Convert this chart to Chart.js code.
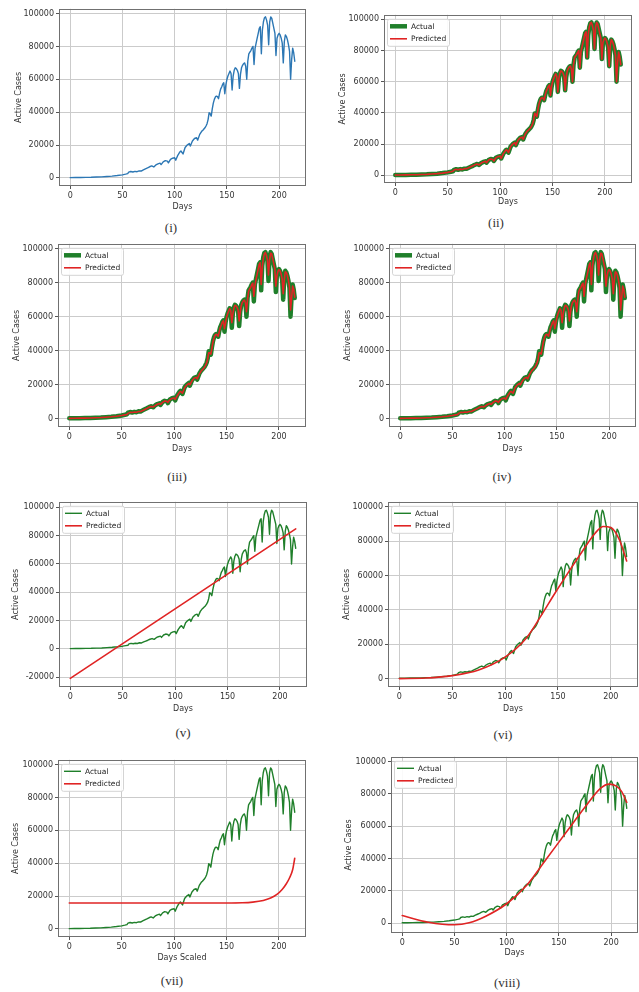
<!DOCTYPE html>
<html>
<head>
<meta charset="utf-8">
<script src="https://cdn.jsdelivr.net/npm/chart.js@4.4.1/dist/chart.umd.min.js"></script>
<style>
  body { margin: 0; background: #fff; width: 639px; height: 992px; position: relative; overflow: hidden; }
  .panel { position: absolute; }
  .cap { position: absolute; font-family: "Liberation Serif", serif; font-size: 13px; font-weight: 400; color: #333; transform: translate(-50%, -50%); white-space: nowrap; }
</style>
</head>
<body>
<script>
// ---- data ----
var xTicks = [0, 50, 100, 150, 200];
var yTicks = [0, 20000, 40000, 60000, 80000, 100000];
var yTicksNeg = [-20000, 0, 20000, 40000, 60000, 80000, 100000];

var actualDays = [0,5,10,15,20,25,30,35,40,45,50,53,55,56,58,60,62,64,66,68,70,72,74,76,78,80,82,84,86,87,89,91,93,94,96,98,100,101,103,105,106,108,110,112,114,115,117,119,121,122,124,126,127,129,
  130,131,132,133,134,135,136,137,138,139,140,141,142,143,144,145,146,147,148,149,150,151,152,153,154,155,156,157,158,159,160,161,162,163,164,165,166,167,168,169,
  170,171,172,173,174,175,176,177,178,179,180,181,182,183,184,185,186,187,188,189,190,191,192,193,194,195,196,197,198,199,200,201,202,203,204,205,206,207,208,209,
  210,211,212,213,214,215];
var actualCases = [200,250,300,350,400,550,650,850,1100,1450,1900,2300,2600,3500,3900,3600,4000,3800,4300,4200,4900,5500,6100,6800,7300,6700,7900,8600,9000,8100,9800,10500,10200,9200,11300,12000,12300,10800,13800,15800,16400,14600,18500,20000,21000,19400,22500,24000,24500,23000,26500,28500,29000,30500,
  31600,33000,35500,39700,39000,37600,42000,45500,47800,49300,49800,49500,48200,51500,54000,55300,57000,57900,51200,56500,59900,62000,63500,65000,63500,53500,62000,65500,67000,66500,65500,63500,54500,63000,67000,68500,69500,70000,68000,60000,
  71000,75500,76500,77500,79000,80000,69000,79000,82000,85000,88000,91000,92000,75500,90000,95000,97500,98000,96000,93000,81000,95000,98000,97000,94000,91000,88000,74500,85000,87000,88000,87000,85000,82000,70000,83000,87000,86000,84000,81000,
  77000,60000,72000,79000,76000,71000];

// panels (iii) and (iv): prediction follows the actual series with shallower dips
var predictedCloseCases = [200,250,300,350,400,550,650,850,1100,1450,1900,2250,2500,3100,3700,3600,3900,3800,4200,4200,4800,5400,6000,6700,7200,6900,7700,8500,8900,8400,9600,10400,10200,9600,11100,11900,12200,11300,13500,15500,16100,15000,18200,19800,20800,19900,22200,23800,24300,23400,26200,28300,28800,30300,
  31400,32800,35000,38800,38800,38000,41300,45000,47400,49000,49600,49400,48500,51000,53600,55100,56800,57600,53000,56000,59400,61700,63300,64800,63600,56500,61500,65000,66700,66500,65600,63800,57500,62500,66500,68300,69300,69800,68200,63000,
  70000,74800,76300,77300,78800,79800,72000,78000,81500,84600,87600,90600,91800,79000,88500,94000,97000,97800,96200,93300,84500,93500,97300,97000,94200,91200,88300,78000,84000,86600,87700,87000,85200,82300,73500,81500,86400,86000,84200,81300,
  77500,64000,70500,78000,76200,71500];

var linearDays = [0, 215];
var linearCases = [-20800, 84800];

var polyDays = [0, 25, 50, 75, 100, 120, 135, 147, 160, 173, 185, 193, 200, 208, 215];
var polyCases = [0, 300, 1700, 5000, 12500, 23500, 37500, 49500, 62000, 74000, 84500, 88500, 88000, 81000, 68500];

var scaledDays = [0, 150, 165, 175, 185, 192, 198, 203, 207, 210, 213, 215];
var scaledCases = [15800, 15800, 15900, 16300, 17300, 18800, 21000, 24000, 27500, 31000, 36000, 43000];

var svrDays = [0, 25, 50, 64, 80, 100, 119, 138, 157, 176, 190, 198, 205, 210, 215];
var svrCases = [4700, 600, -1000, 200, 4300, 12000, 23300, 39700, 56200, 72600, 83500, 86000, 84800, 81500, 74700];

// ---- styling ----
var BLUE = '#2c77b4';
var GREEN = '#1f7f2a';
var RED = '#e02424';
var FONT = 'DejaVu Sans';

function pts(days, values) {
  return days.map(function (d, i) { return { x: d, y: values[i] }; });
}

function actualSet(width) {
  return { label: 'Actual', data: pts(actualDays, actualCases), borderColor: GREEN, borderWidth: width, order: 1 };
}

function predictedSet(days, values, smooth) {
  return {
    label: 'Predicted', data: pts(days, values), borderColor: RED, borderWidth: 1.6, order: 0,
    cubicInterpolationMode: smooth ? 'monotone' : 'default'
  };
}

const frameLegendPlugin = {
  id: 'frameLegend',
  afterDatasetsDraw: function (chart, args, opts) {
    const ctx = chart.ctx;
    const a = chart.chartArea;
    ctx.save();
    ctx.strokeStyle = '#707070';
    ctx.lineWidth = 1;
    ctx.strokeRect(Math.round(a.left) + 0.5, Math.round(a.top) + 0.5,
      Math.round(a.right - a.left) - 1, Math.round(a.bottom - a.top) - 1);

    if (opts.show) {
      const x = a.left + 3, y = a.top + 4, w = 62, h = 27;
      ctx.fillStyle = 'rgba(255,255,255,0.9)';
      ctx.strokeStyle = '#d4d4d4';
      ctx.beginPath();
      ctx.roundRect(x + 0.5, y + 0.5, w, h, 2);
      ctx.fill();
      ctx.stroke();
      ctx.font = '7.5px "' + FONT + '"';
      ctx.textBaseline = 'middle';
      chart.data.datasets.forEach(function (ds, i) {
        const ly = y + 7.5 + i * 12.5;
        ctx.strokeStyle = ds.borderColor;
        ctx.lineWidth = ds.borderWidth;
        ctx.beginPath();
        ctx.moveTo(x + 3, ly);
        ctx.lineTo(x + 20, ly);
        ctx.stroke();
        ctx.fillStyle = '#222';
        ctx.fillText(ds.label, x + 24, ly + 0.5);
      });
    }
    ctx.restore();
  }
};

// frame box (L,T,R,B), y title centre x, x title centre y, caption centre
var panels = [
  { cap: '(i)', L: 59, T: 8, R: 306, B: 186, titleX: 19, daysY: 207, capX: 171, capY: 228, legend: false,
    datasets: [{ label: 'Active', data: pts(actualDays, actualCases), borderColor: BLUE, borderWidth: 1.4 }] },
  { cap: '(ii)', L: 384, T: 14, R: 632, B: 183, titleX: 343, daysY: 202, capX: 496, capY: 223, legend: true,
    datasets: [actualSet(4.5), predictedSet(actualDays, actualCases, false)] },
  { cap: '(iii)', L: 58, T: 243, R: 306, B: 427, titleX: 17, daysY: 449, capX: 177, capY: 477, legend: true,
    datasets: [actualSet(4.5), predictedSet(actualDays, predictedCloseCases, false)] },
  { cap: '(iv)', L: 389, T: 243, R: 636, B: 427, titleX: 348, daysY: 449, capX: 502, capY: 477, legend: true,
    datasets: [actualSet(4.5), predictedSet(actualDays, predictedCloseCases, false)] },
  { cap: '(v)', L: 59, T: 501, R: 307, B: 687, titleX: 16, daysY: 709, capX: 183, capY: 733, legend: true, neg: true,
    datasets: [actualSet(1.4), predictedSet(linearDays, linearCases, false)] },
  { cap: '(vi)', L: 388, T: 501, R: 638, B: 687, titleX: 347, daysY: 709, capX: 503, capY: 735, legend: true,
    datasets: [actualSet(1.4), predictedSet(polyDays, polyCases, true)] },
  { cap: '(vii)', L: 58, T: 759, R: 306, B: 937, titleX: 16, daysY: 958, capX: 172, capY: 981, legend: true, xTitle: 'Days Scaled',
    datasets: [actualSet(1.4), predictedSet(scaledDays, scaledCases, true)] },
  { cap: '(viii)', L: 391, T: 756, R: 638, B: 933, titleX: 349, daysY: 953, capX: 507, capY: 983, legend: true, yMin: -6100,
    datasets: [actualSet(1.4), predictedSet(svrDays, svrCases, true)] }
];

function makePanel(p) {
  var left = p.titleX - 5;
  var top = p.T - 6;
  var width = p.R + 2 - left;
  var height = p.daysY + 5 - top;

  var box = document.createElement('div');
  box.className = 'panel';
  box.style.left = left + 'px';
  box.style.top = top + 'px';
  var canvas = document.createElement('canvas');
  canvas.width = width;
  canvas.height = height;
  canvas.style.width = width + 'px';
  canvas.style.height = height + 'px';
  box.appendChild(canvas);
  document.body.appendChild(box);

  var cap = document.createElement('div');
  cap.className = 'cap';
  cap.style.left = p.capX + 'px';
  cap.style.top = p.capY + 'px';
  cap.textContent = p.cap;
  document.body.appendChild(cap);

  var tickFont = { family: FONT, size: 8 };
  var yt = p.neg ? yTicksNeg : yTicks;

  new Chart(canvas.getContext('2d'), {
    type: 'line',
    data: { datasets: p.datasets },
    options: {
      responsive: false,
      animation: false,
      events: [],
      layout: { padding: { top: 6, right: 2, left: 0, bottom: 0 } },
      elements: {
        point: { radius: 0 },
        line: { tension: 0, borderJoinStyle: 'round', borderCapStyle: 'round' }
      },
      plugins: {
        legend: { display: false },
        tooltip: { enabled: false },
        frameLegend: { show: p.legend }
      },
      scales: {
        x: {
          type: 'linear',
          min: -10.75,
          max: 225.75,
          afterBuildTicks: function (s) { s.ticks = xTicks.map(function (v) { return { value: v }; }); },
          afterFit: function (s) { s.height = p.daysY + 5 - p.B; },
          ticks: { font: tickFont, color: '#333', padding: 2, maxRotation: 0, autoSkip: false,
            callback: function (v) { return String(v); } },
          grid: { color: '#cbcbcb', lineWidth: 1, tickLength: 3, tickColor: '#555' },
          border: { display: false },
          title: { display: true, text: p.xTitle || 'Days', font: tickFont, color: '#333', padding: 0 }
        },
        y: {
          type: 'linear',
          min: p.neg ? -26950 : (p.yMin || -4900),
          max: p.neg ? 103950 : 102900,
          afterBuildTicks: function (s) { s.ticks = yt.map(function (v) { return { value: v }; }); },
          afterFit: function (s) { s.width = p.L - left; },
          ticks: { font: tickFont, color: '#333', padding: 2, autoSkip: false,
            callback: function (v) { return String(v); } },
          grid: { color: '#cbcbcb', lineWidth: 1, tickLength: 3, tickColor: '#555' },
          border: { display: false },
          title: { display: true, text: 'Active Cases', font: tickFont, color: '#333', padding: 0 }
        }
      }
    },
    plugins: [frameLegendPlugin]
  });
}

panels.forEach(makePanel);
</script>
</body>
</html>
